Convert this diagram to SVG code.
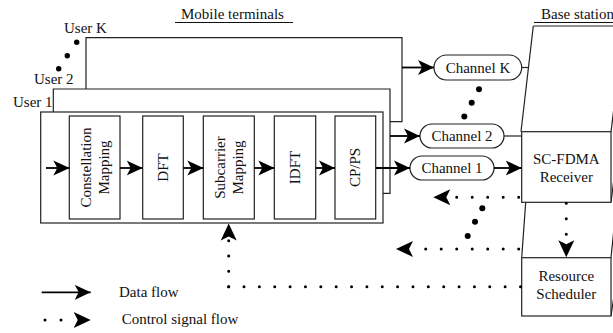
<svg xmlns="http://www.w3.org/2000/svg" xmlns:xlink="http://www.w3.org/1999/xlink" width="613" height="333" viewBox="0 0 613 333">
  <style>
    .box { fill: #fff; stroke: #222; stroke-width: 1.2; }
    .frame { fill: none; stroke: #222; stroke-width: 1.2; }
    .flow { fill: none; stroke: #000; stroke-width: 1.8; }
    .ctrl { fill: none; stroke: #000; stroke-width: 3; stroke-linecap: round; }
    .big { fill: #000; }
  </style>
  <defs>
    <path id="ah" d="M0,0 L-16,-7.5 L-12,0 L-16,7.5 Z" fill="#000"/>
    <path id="ahc" d="M0,0 L-17,-8 L-13,0 L-17,8 Z" fill="#000"/>
    <marker id="arrow" viewBox="-16 -8 16 16" refX="0" refY="0" markerWidth="16" markerHeight="16" markerUnits="userSpaceOnUse" orient="auto">
      <use xlink:href="#ah"/>
    </marker>
  </defs>

  <!-- section titles -->
  <g id="titles">
    <text x="181" y="19" font-family="Liberation Serif" font-size="15" fill="#111">Mobile terminals</text>
    <line x1="175" y1="22.5" x2="293" y2="22.5" stroke="#111" stroke-width="1"/>
    <text x="541" y="19" font-family="Liberation Serif" font-size="15" fill="#111">Base station</text>
    <line x1="534" y1="22.5" x2="613" y2="22.5" stroke="#111" stroke-width="1"/>
  </g>

  <!-- stacked user terminals -->
  <g id="userK">
    <polyline class="frame" points="86,89 86,37.7 402,37.7 402,121.7 390,121.7"/>
    <text x="64" y="33" font-family="Liberation Serif" font-size="15" fill="#111">User K</text>
  </g>
  <g id="user2">
    <polyline class="frame" points="53.3,112 53.3,89 390,89 390,193.3 383,193.3"/>
    <text x="34" y="84" font-family="Liberation Serif" font-size="15" fill="#111">User 2</text>
  </g>
  <g id="user1">
    <rect class="frame" x="40.7" y="112" width="342.3" height="111"/>
    <text x="13" y="107" font-family="Liberation Serif" font-size="15" fill="#111">User 1</text>
  </g>
  <g id="users-ellipsis">
    <circle class="big" cx="76.7" cy="42.3" r="2.7"/>
    <circle class="big" cx="67.3" cy="55.7" r="2.7"/>
    <circle class="big" cx="58.7" cy="68.7" r="2.7"/>
  </g>

  <!-- transmitter blocks -->
  <g id="constellation">
    <rect class="box" x="69.3" y="116" width="50.7" height="103"/>
    <g transform="translate(94.7,167.5) rotate(-90)" font-family="Liberation Serif" font-size="15" fill="#111" text-anchor="middle">
      <text x="0" y="-4">Constellation</text>
      <text x="0" y="14">Mapping</text>
    </g>
  </g>
  <g id="dft">
    <rect class="box" x="142.7" y="116" width="40.6" height="103"/>
    <text transform="translate(163,167.5) rotate(-90)" y="5" font-family="Liberation Serif" font-size="15" fill="#111" text-anchor="middle">DFT</text>
  </g>
  <g id="subcarrier">
    <rect class="box" x="203.3" y="116" width="51" height="103"/>
    <g transform="translate(228.8,167.5) rotate(-90)" font-family="Liberation Serif" font-size="15" fill="#111" text-anchor="middle">
      <text x="0" y="-4">Subcarrier</text>
      <text x="0" y="14">Mapping</text>
    </g>
  </g>
  <g id="idft">
    <rect class="box" x="274.3" y="116" width="41.4" height="103"/>
    <text transform="translate(295,167.5) rotate(-90)" y="5" font-family="Liberation Serif" font-size="15" fill="#111" text-anchor="middle">IDFT</text>
  </g>
  <g id="cpps">
    <rect class="box" x="335" y="116" width="40.7" height="103"/>
    <text transform="translate(355.3,167.5) rotate(-90)" y="5" font-family="Liberation Serif" font-size="15" fill="#111" text-anchor="middle">CP/PS</text>
  </g>

  <!-- base station outline -->
  <g id="base-station">
    <polyline class="frame" points="533.3,26 624,26"/>
    <line class="frame" x1="533.3" y1="26" x2="521" y2="131.7"/>
    <line class="frame" x1="624" y1="26" x2="611" y2="131.7"/>
    <line class="frame" x1="614" y1="178" x2="611" y2="202.3"/>
    <line class="frame" x1="525.7" y1="202.3" x2="521.7" y2="257.7"/>
    <line class="frame" x1="614" y1="228" x2="611" y2="257.7"/>
    <line class="frame" x1="613.5" y1="299" x2="611" y2="316"/>
  </g>

  <!-- channels -->
  <g id="channelK">
    <rect class="box" x="434" y="55" width="87.7" height="25" rx="12.5"/>
    <text x="478" y="72.5" font-family="Liberation Serif" font-size="15" fill="#111" text-anchor="middle">Channel K</text>
  </g>
  <g id="channel2">
    <rect class="box" x="420" y="124" width="84" height="24" rx="12"/>
    <text x="462" y="141" font-family="Liberation Serif" font-size="15" fill="#111" text-anchor="middle">Channel 2</text>
  </g>
  <g id="channel1">
    <rect class="box" x="410" y="156" width="84" height="24" rx="12"/>
    <text x="452" y="173" font-family="Liberation Serif" font-size="15" fill="#111" text-anchor="middle">Channel 1</text>
  </g>
  <g id="channels-ellipsis">
    <circle class="big" cx="479" cy="89.3" r="3"/>
    <circle class="big" cx="471.7" cy="102.7" r="3"/>
    <circle class="big" cx="464.3" cy="116.5" r="3"/>
  </g>

  <!-- receiver side -->
  <g id="receiver">
    <rect class="box" x="521.7" y="131.7" width="89.3" height="70.6"/>
    <text x="566.3" y="163.5" font-family="Liberation Serif" font-size="15" fill="#111" text-anchor="middle">SC-FDMA</text>
    <text x="566.3" y="182" font-family="Liberation Serif" font-size="15" fill="#111" text-anchor="middle">Receiver</text>
  </g>
  <g id="scheduler">
    <rect class="box" x="521.7" y="257.7" width="89.3" height="58.3"/>
    <text x="566.3" y="280.5" font-family="Liberation Serif" font-size="15" fill="#111" text-anchor="middle">Resource</text>
    <text x="566.3" y="298.5" font-family="Liberation Serif" font-size="15" fill="#111" text-anchor="middle">Scheduler</text>
  </g>

  <g id="connectors">
    <!-- data flow -->
    <line class="flow" x1="46" y1="168" x2="69.3" y2="168" marker-end="url(#arrow)"/>
    <line class="flow" x1="120" y1="168" x2="142.7" y2="168" marker-end="url(#arrow)"/>
    <line class="flow" x1="183.3" y1="168" x2="203.3" y2="168" marker-end="url(#arrow)"/>
    <line class="flow" x1="254.3" y1="168" x2="274.3" y2="168" marker-end="url(#arrow)"/>
    <line class="flow" x1="315.7" y1="168" x2="335" y2="168" marker-end="url(#arrow)"/>
    <line class="flow" x1="375.7" y1="168" x2="410" y2="168" marker-end="url(#arrow)"/>
    <line class="flow" x1="390" y1="136" x2="420" y2="136" marker-end="url(#arrow)"/>
    <line class="flow" x1="402" y1="67.5" x2="434" y2="67.5" marker-end="url(#arrow)"/>
    <line class="flow" x1="494" y1="168" x2="521.7" y2="168" marker-end="url(#arrow)"/>
    <line class="frame" x1="504" y1="136" x2="521.7" y2="136"/>
    <line class="frame" x1="521.7" y1="67.5" x2="528.5" y2="67.5"/>

    <!-- control signal flow (dotted, round caps make the dots) -->
    <path class="ctrl" d="M518.7,197.3 L456.2,197.3" stroke-dasharray="0 15.5"/>
    <use xlink:href="#ahc" transform="translate(433.3,197.3) rotate(180)"/>
    <path class="ctrl" d="M518.7,249 L425.2,249" stroke-dasharray="0 15.5"/>
    <use xlink:href="#ahc" transform="translate(396,249) rotate(180)"/>
    <path class="ctrl" d="M520.5,286.7 L228.2,286.7" stroke-dasharray="0 15.36"/>
    <path class="ctrl" d="M228.7,286.7 L228.7,240.2" stroke-dasharray="0 15.33"/>
    <use xlink:href="#ahc" transform="translate(228.7,223.5) rotate(-90)"/>
    <path class="ctrl" d="M566.3,203.3 L566.3,234.8" stroke-dasharray="0 15.5"/>
    <use xlink:href="#ahc" transform="translate(566.3,257.2) rotate(90)"/>
  </g>
  <g id="control-ellipsis">
    <circle class="big" cx="482.3" cy="208.3" r="3"/>
    <circle class="big" cx="475" cy="221.7" r="3"/>
    <circle class="big" cx="467.7" cy="236" r="3"/>
  </g>

  <!-- legend -->
  <g id="legend">
    <line class="flow" x1="41.7" y1="292.3" x2="90.7" y2="292.3" marker-end="url(#arrow)"/>
    <text x="119" y="297.3" font-family="Liberation Serif" font-size="15" fill="#111">Data flow</text>
    <path class="ctrl" d="M45,320 L61.5,320" stroke-dasharray="0 16"/>
    <use xlink:href="#ahc" transform="translate(90.7,320)"/>
    <text x="121.7" y="324.3" font-family="Liberation Serif" font-size="15" fill="#111">Control signal flow</text>
  </g>
</svg>
